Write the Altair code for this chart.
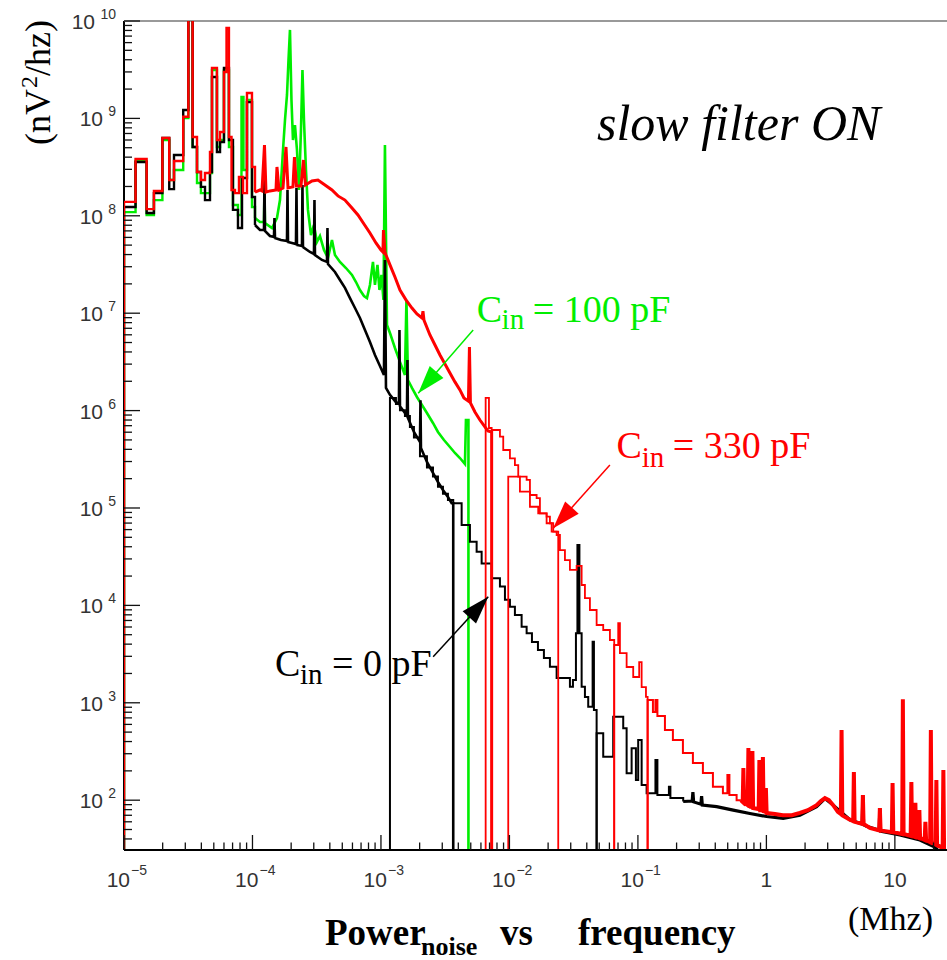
import altair as alt
import pandas as pd

# ---------------- data: frequency [MHz], noise power [nV^2/Hz] ----------------
# Each trace is a superposition of histogram segments (value 1 = empty bin -> bottom, 2e10 = off scale)

# red, C_in = 330 pF
R1A_F = [1.00e-5, 1.00e-5, 1.23e-5, 1.50e-5, 1.71e-5, 1.99e-5, 2.25e-5, 2.45e-5, 2.89e-5, 3.17e-5,
         3.42e-5, 3.70e-5, 3.97e-5, 4.27e-5, 4.67e-5, 4.84e-5, 5.29e-5, 5.59e-5, 6.00e-5, 6.28e-5,
         6.56e-5, 6.87e-5, 7.31e-5, 7.85e-5, 8.44e-5, 9.06e-5, 9.91e-5, 1.046e-4]
R1A_P = [1, 1.39e8, 3.83e8, 1.17e8, 1.80e8, 6.29e8, 2.33e8, 3.65e8, 1.04e9, 2e10,
         6.44e8, 2.82e8, 2.33e8, 2.75e8, 4.52e8, 3.29e9, 6.00e8, 7.25e8, 2.99e9, 8.47e9,
         6.44e8, 1.84e8, 1.71e8, 2.50e8, 1.71e8, 1.82e9, 3.17e8, 1.75e8]
R1B_F = [1.046e-4, 1.144e-4, 1.186e-4, 1.240e-4, 1.274e-4, 1.368e-4, 1.524e-4, 1.551e-4, 1.608e-4, 1.728e-4,
         1.823e-4, 1.890e-4, 2.066e-4, 2.122e-4, 2.200e-4, 2.385e-4, 2.494e-4, 2.585e-4, 2.904e-4, 3.233e-4,
         3.666e-4, 4.156e-4, 4.627e-4, 5.246e-4, 5.949e-4, 6.622e-4, 7.374e-4, 8.211e-4, 9.144e-4, 1.000e-3,
         1.036e-3, 1.046e-3, 1.074e-3, 1.094e-3, 1.175e-3, 1.285e-3, 1.406e-3, 1.565e-3, 1.743e-3, 1.906e-3,
         2.085e-3, 2.123e-3, 2.161e-3, 2.406e-3, 2.633e-3, 2.879e-3, 3.149e-3, 3.443e-3, 3.765e-3, 4.118e-3,
         4.424e-3, 4.796e-3, 4.883e-3, 4.970e-3, 5.389e-3, 5.893e-3, 6.447e-3, 6.804e-3, 7.270e-3, 7.270e-3]
R1B_P = [1.75e8, 1.84e8, 1.80e8, 5.33e8, 1.75e8, 1.80e8, 1.84e8, 3.17e8, 1.84e8, 1.93e8,
         5.09e8, 1.93e8, 1.98e8, 4.01e8, 2.02e8, 2.02e8, 3.74e8, 2.07e8, 2.28e8, 2.33e8,
         2.07e8, 1.84e8, 1.60e8, 1.45e8, 1.20e8, 1.02e8, 8.24e7, 6.66e7, 5.26e7, 4.46e7,
         4.25e7, 7.15e7, 4.25e7, 3.96e7, 3.13e7, 2.35e7, 1.73e7, 1.37e7, 1.13e7, 9.81e6,
         8.93e6, 1.05e7, 8.51e6, 5.98e6, 4.71e6, 3.72e6, 3.01e6, 2.43e6, 1.97e6, 1.63e6,
         1.35e6, 1.25e6, 4.50e6, 1.20e6, 9.67e5, 8.0e5, 6.79e5, 6.17e5, 6.03e5, 1]
R2_F = [6.529e-3, 6.529e-3, 6.927e-3, 7.270e-3, 8.435e-3, 8.949e-3, 1.009e-2, 1.103e-2, 1.171e-2, 1.361e-2,
        1.444e-2, 1.628e-2, 1.727e-2, 1.947e-2, 2.066e-2, 2.192e-2, 2.398e-2]
R2_P = [1, 1.35e6, 6.63e5, 6.32e5, 5.40e5, 3.94e5, 3.23e5, 2.76e5, 2.10e5, 1.94e5,
        1.36e5, 1.26e5, 8.82e4, 8.15e4, 6.97e4, 5.71e4, 1]
R3_F = [9.788e-3, 9.788e-3, 1.207e-2, 1.444e-2, 1.675e-2, 1.947e-2, 2.130e-2, 2.330e-2, 2.472e-2, 2.704e-2,
        2.957e-2, 3.334e-2, 3.647e-2, 3.869e-2, 4.231e-2, 4.771e-2, 5.370e-2, 6.054e-2, 6.539e-2]
R3_P = [1, 2.10e5, 1.47e5, 1.03e5, 8.82e4, 6.97e4, 5.71e4, 5.28e4, 3.70e4, 2.92e4,
        2.31e4, 2.54e4, 1.62e4, 1.19e4, 8.97e3, 6.29e3, 5.59e3, 4.41e3, 1]
R4_F = [6.539e-2, 6.539e-2, 7.026e-2, 7.244e-2, 8.168e-2, 9.192e-2, 0.1023, 0.1069, 0.1155, 0.1190]
R4_P = [1, 3.92e3, 6.59e3, 3.24e3, 2.33e3, 1.84e3, 2.62e3, 1.45e3, 1.15e3, 1]
R5A_F = [0.1190, 0.1190, 0.1309, 0.1369, 0.1418, 0.1623, 0.1872, 0.2240, 0.2679, 0.3205,
         0.3835, 0.4587, 0.4972, 0.5154, 0.5864, 0.6334]
R5A_P = [1, 1.07e3, 8.05e2, 1.07e3, 7.32e2, 5.26e2, 4.15e2, 3.05e2, 2.41e2, 1.90e2,
         1.37e2, 1.18e2, 1.81e2, 1.13e2, 1.00e2, 1.00e2]
R5B_F = [0.6334, 0.6541, 0.6622, 0.6707, 0.7152, 0.7244, 0.7334, 0.7685, 0.7782, 0.7880,
         0.8711, 0.8821, 0.8933, 0.9275, 0.9393, 0.9511, 0.9788, 0.9911, 1.004, 1.165,
         1.344, 1.579, 1.823, 2.104, 2.459, 2.656, 2.853, 3.065, 3.311, 3.601,
         3.800, 3.847, 3.897, 4.466, 4.738, 4.796, 4.859, 5.567, 5.636, 5.708,
         6.388, 7.546, 7.642, 7.740, 9.478, 9.596, 9.718, 11.40, 11.54, 11.69,
         13.27, 13.44, 13.61, 14.26, 14.44, 14.62, 15.32, 15.51, 15.71, 17.06,
         17.28, 17.50, 18.82, 19.06, 19.30, 20.77, 21.04, 21.30, 23.55, 23.85,
         24.15, 24.94]
R5B_P = [100, 96, 214, 94, 89, 344, 87, 85, 320, 83,
         81, 259, 79, 79, 278, 77, 76, 133, 74, 72,
         70, 70, 74, 79, 89, 98, 105, 100, 89, 76,
         72, 526, 70, 63, 61, 195, 60, 57, 113, 57,
         52, 49, 83, 49, 47, 150, 47, 45, 1090, 45,
         43, 154, 43, 42, 94, 42, 41, 79, 41, 39,
         60, 39, 37, 526, 37, 35, 161, 35, 32, 204,
         31.5, 27]

# black, C_in = 0 pF
B1A_F = [1.00e-5, 1.00e-5, 1.23e-5, 1.50e-5, 1.71e-5, 1.99e-5, 2.25e-5, 2.45e-5, 2.89e-5, 3.17e-5,
         3.42e-5, 3.70e-5, 3.97e-5, 4.27e-5, 4.67e-5, 4.84e-5, 5.29e-5, 5.59e-5, 6.00e-5, 6.56e-5,
         7.05e-5, 7.71e-5, 8.29e-5, 9.06e-5, 9.91e-5, 1.046e-4]
B1A_P = [1, 1.23e8, 3.57e8, 1.07e8, 1.71e8, 6.29e8, 1.88e8, 4.21e8, 1.22e9, 2e10,
         5.09e8, 2.82e8, 1.98e8, 1.45e8, 2.82e8, 2.66e9, 4.52e8, 5.72e8, 3.29e9, 6.00e8,
         1.15e8, 7.50e7, 2.44e8, 1.47e9, 1.56e8, 8.05e7]
B1B_F = [1.046e-4, 1.144e-4, 1.229e-4, 1.240e-4, 1.251e-4, 1.368e-4, 1.470e-4, 1.483e-4, 1.497e-4, 1.667e-4,
         1.856e-4, 1.873e-4, 1.890e-4, 2.030e-4, 2.180e-4, 2.200e-4, 2.220e-4, 2.428e-4, 2.449e-4, 2.472e-4,
         2.802e-4, 3.010e-4, 3.037e-4, 3.065e-4, 3.474e-4, 3.800e-4, 3.834e-4, 3.869e-4, 4.385e-4, 4.796e-4,
         5.246e-4, 5.740e-4, 6.279e-4, 6.865e-4, 7.508e-4, 8.211e-4, 8.981e-4, 9.822e-4, 1.055e-3, 1.074e-3,
         1.094e-3, 1.175e-3, 1.308e-3, 1.380e-3, 1.393e-3, 1.406e-3, 1.537e-3, 1.593e-3, 1.607e-3, 1.622e-3,
         1.806e-3, 2.012e-3, 2.030e-3, 2.048e-3, 2.280e-3, 2.540e-3, 2.778e-3, 3.038e-3, 3.322e-3, 3.549e-3,
         3.652e-3, 3.652e-3]
B1B_P = [8.05e7, 7.15e7, 7.15e7, 2.44e8, 6.98e7, 6.20e7, 6.06e7, 9.48e7, 5.92e7, 5.65e7,
         5.51e7, 1.84e8, 5.39e7, 5.26e7, 5.13e7, 1.93e8, 5.02e7, 4.90e7, 2.07e8, 4.78e7,
         4.25e7, 4.05e7, 1.45e8, 3.96e7, 3.52e7, 3.36e7, 7.50e7, 3.20e7, 2.65e7, 2.19e7,
         1.82e7, 1.43e7, 1.13e7, 8.93e6, 6.73e6, 5.06e6, 3.72e6, 2.87e6, 2.32e6, 3.52e7,
         1.71e6, 1.45e6, 1.22e6, 1.17e6, 6.73e6, 1.11e6, 9.45e5, 8.80e5, 3.31e6, 8.39e5,
         6.03e5, 4.76e5, 1.28e6, 4.13e5, 2.97e5, 2.29e5, 1.85e5, 1.53e5, 1.30e5, 1.12e5,
         1.12e5, 1]
B2_F = [1.175e-3, 1.175e-3, 1.308e-3, 1.406e-3, 1.537e-3, 1.68e-3, 1.806e-3, 2.012e-3, 2.280e-3, 2.540e-3,
        2.778e-3, 3.038e-3, 3.322e-3, 3.652e-3, 4.246e-3, 4.927e-3, 5.555e-3, 6.076e-3, 7.270e-3, 8.435e-3,
        9.226e-3, 1.009e-2, 1.103e-2, 1.244e-2, 1.361e-2, 1.497e-2, 1.667e-2, 1.855e-2, 2.066e-2, 2.330e-2,
        2.957e-2, 3.121e-2, 3.293e-2, 3.382e-2, 3.505e-2, 3.647e-2, 3.869e-2, 4.104e-2, 4.441e-2, 4.546e-2,
        4.771e-2]
B2_P = [1, 1.35e6, 1.17e6, 1.01e6, 8.8e5, 6.79e5, 5.3e5, 3.4e5, 2.6e5, 2.1e5,
        1.65e5, 1.4e5, 1.21e5, 1.12e5, 6.70e4, 4.51e4, 3.56e4, 2.70e4, 1.90e4, 1.56e4,
        1.14e4, 9.7e3, 7.96e3, 6.04e3, 5.17e3, 4.21e3, 3.48e3, 2.88e3, 2.35e3, 1.80e3,
        1.46e3, 1.71e3, 5.17e3, 4.17e4, 5.17e3, 1.46e3, 1.15e3, 9.12e2, 4.24e3, 8.44e2,
        1]
B3A_F = [4.771e-2, 4.771e-2, 5.370e-2, 6.423e-2, 7.686e-2, 8.168e-2, 8.933e-2, 9.647e-2, 0.1005, 0.1069,
         0.1169, 0.1369, 0.1418, 0.1743, 0.1790, 0.2252]
B3A_P = [1, 4.86e2, 2.80e2, 7.20e2, 5.47e2, 1.89e2, 3.41e2, 1.61e2, 4.15e2, 1.43e2,
         1.18e2, 2.59e2, 1.13e2, 1.37e2, 1.05e2, 97]
B3B_F = [0.2252, 0.2646, 0.2679, 0.2714, 0.3093, 0.3131, 0.3171, 0.4098, 0.5515, 0.7438,
         1.004, 1.351, 1.823, 2.459, 2.853, 3.311, 4.466, 5.567, 5.636, 5.708,
         6.023, 7.546, 7.642, 7.740, 10.94, 15.65, 20.48, 22.40]
B3B_P = [97, 98, 121, 96, 91, 110, 89, 86, 79, 73,
         68, 65, 70, 86, 104, 89, 63, 57, 113, 56,
         54, 49, 83, 48, 44, 39, 33, 29]

# green, C_in = 100 pF
G1A_F = [1.00e-5, 1.00e-5, 1.23e-5, 1.50e-5, 1.71e-5, 1.99e-5, 2.25e-5, 2.45e-5, 2.89e-5, 3.17e-5,
         3.42e-5, 3.70e-5, 3.97e-5, 4.27e-5, 4.67e-5, 4.84e-5, 5.29e-5, 5.59e-5, 6.00e-5, 6.56e-5,
         7.05e-5, 7.71e-5, 8.21e-5, 8.51e-5, 9.06e-5, 9.91e-5, 1.046e-4]
G1A_P = [1, 1.09e8, 3.65e8, 1.02e8, 1.45e8, 6.00e8, 2.33e8, 2.95e8, 1.01e9, 2e10,
         5.09e8, 2.17e8, 1.71e8, 1.71e8, 2.75e8, 3.14e9, 5.09e8, 6.00e8, 3.14e9, 5.09e8,
         1.29e8, 1.02e8, 1.66e9, 2.95e8, 1.55e9, 1.23e8, 9.48e7]
G1B_F = [1.046e-4, 1.144e-4, 1.229e-4, 1.240e-4, 1.251e-4, 1.418e-4, 1.551e-4, 1.637e-4, 1.728e-4, 1.791e-4,
         1.856e-4, 1.907e-4, 1.958e-4, 2.011e-4, 2.066e-4, 2.141e-4, 2.220e-4, 2.301e-4, 2.385e-4, 2.449e-4,
         2.516e-4, 2.608e-4, 2.703e-4, 2.853e-4, 3.010e-4, 3.176e-4, 3.352e-4, 3.601e-4, 3.869e-4, 4.156e-4,
         4.385e-4, 4.796e-4, 5.341e-4, 5.949e-4, 6.392e-4, 6.865e-4, 7.374e-4, 7.782e-4, 8.211e-4, 8.664e-4,
         8.981e-4, 9.393e-4, 9.735e-4, 1.009e-3, 1.046e-3, 1.074e-3, 1.114e-3, 1.175e-3, 1.285e-3, 1.406e-3,
         1.537e-3, 1.579e-3, 1.622e-3, 1.743e-3, 1.906e-3, 2.085e-3, 2.280e-3, 2.540e-3, 2.778e-3, 3.093e-3,
         3.443e-3, 3.765e-3, 4.118e-3, 4.505e-3, 4.587e-3, 4.796e-3, 4.796e-3]
G1B_P = [9.48e7, 8.63e7, 8.63e7, 1.84e8, 8.44e7, 7.50e7, 9.48e7, 1.45e8, 4.74e8, 9.63e8,
         1.74e9, 3.98e9, 8.1e9, 1.55e9, 6.00e8, 8.55e8, 4.74e8, 1.84e8, 7.60e8, 3.14e9,
         9.63e8, 2.95e8, 1.15e8, 6.35e7, 8.05e7, 5.39e7, 6.20e7, 4.46e7, 3.69e7, 5.65e7,
         3.96e7, 3.36e7, 2.91e7, 2.47e7, 2.09e7, 1.73e7, 1.50e7, 1.43e7, 1.95e7, 3.36e7,
         1.95e7, 3.13e7, 1.73e7, 2.47e7, 1.37e7, 5.33e8, 7.57e6, 6.27e6, 4.39e6, 3.16e6,
         2.32e6, 1.37e7, 2.06e6, 1.71e6, 1.38e6, 1.14e6, 9.45e5, 7.46e5, 6.03e5, 4.99e5,
         4.23e5, 3.67e5, 3.26e5, 2.83e5, 8.0e5, 8.0e5, 1]

# axis ticks and labels
Y_MAJOR = [1e2, 1e3, 1e4, 1e5, 1e6, 1e7, 1e8, 1e9, 1e10]
Y_EXP = ["2", "3", "4", "5", "6", "7", "8", "9", "10"]
X_MAJOR = [1e-5, 1e-4, 1e-3, 1e-2, 1e-1, 1, 10]
X_BASE = ["10", "10", "10", "10", "10", "1", "10"]
X_EXP = ["\u22125", "\u22124", "\u22123", "\u22122", "\u22121", "", ""]

# annotations: arrows (start -> tip) and labels
ARROW_NAME = ["green", "red", "black"]
ARROW_F0 = [5.22e-3, 6.05e-2, 2.55e-3]
ARROW_P0 = [6.73e6, 2.76e5, 2.97e3]
ARROW_F1 = [1.95e-3, 2.19e-2, 6.84e-3]
ARROW_P1 = [1.51e6, 6.18e4, 1.23e4]
LABEL_C_F = [5.56e-3, 6.82e-2, 1.50e-4]
LABEL_C_P = [8.18e6, 3.24e5, 1.88e3]
LABEL_IN_F = [8.69e-3, 0.107, 2.34e-4]
LABEL_IN_P = [6.89e6, 2.65e5, 1.56e3]
LABEL_EQ_F = [1.52e-2, 0.187, 4.16e-4]
LABEL_EQ_TXT = ["= 100 pF", "= 330 pF", "= 0 pF"]

FMIN, FMAX = 1e-5, 25.0
PMIN, PMAX = 30.8, 1e10
W, H = 822, 829

COL = {"black": "#000000", "green": "#00ee00", "red": "#ff0000"}
SANS = "Liberation Sans"
SERIF = "Liberation Serif"

xs = alt.Scale(type="log", domain=[FMIN, FMAX], nice=False)
ys = alt.Scale(type="log", domain=[PMIN, PMAX], nice=False)
X = alt.X("f:Q", scale=xs, axis=None)
Y = alt.Y("P:Q", scale=ys, axis=None)
X2 = alt.X2("f2:Q")
Y2 = alt.Y2("P2:Q")

one = pd.DataFrame({"k": [0]})
layers = []

# frame (left, top)
layers.append(alt.Chart(one).mark_rule(color="#000", strokeWidth=2).encode(
    x=alt.value(0), y=alt.value(0), y2=alt.value(H)))
layers.append(alt.Chart(one).mark_rule(color="#777", strokeWidth=1.5).encode(
    x=alt.value(0), x2=alt.value(W + 1), y=alt.value(0)))

segments = [
    ("green", G1A_F, G1A_P, "step-after", 2.4),
    ("green", G1B_F, G1B_P, "linear", 2.6),
    ("black", B1A_F, B1A_P, "step-after", 2.4),
    ("black", B1B_F, B1B_P, "linear", 2.6),
    ("black", B2_F, B2_P, "step-after", 2.0),
    ("black", B3A_F, B3A_P, "step-after", 2.0),
    ("black", B3B_F, B3B_P, "linear", 3.2),
    ("red", R1A_F, R1A_P, "step-after", 2.4),
    ("red", R1B_F, R1B_P, "linear", 3.0),
    ("red", R2_F, R2_P, "step-after", 1.8),
    ("red", R3_F, R3_P, "step-after", 1.8),
    ("red", R4_F, R4_P, "step-after", 1.8),
    ("red", R5A_F, R5A_P, "step-after", 2.0),
    ("red", R5B_F, R5B_P, "linear", 4.0),
]
for trace, F, P, interp, w in segments:
    assert len(F) == len(P), (trace, len(F), len(P))
    df = pd.DataFrame({"f": F, "P": P, "i": list(range(len(F)))})
    layers.append(alt.Chart(df).mark_line(interpolate=interp, clip=True, color=COL[trace],
                                          strokeWidth=w).encode(x=X, y=Y, order="i:Q"))

# bottom axis line on top of traces
layers.append(alt.Chart(one).mark_rule(color="#000", strokeWidth=2).encode(
    x=alt.value(0), x2=alt.value(W + 1), y=alt.value(H)))

# ticks (drawn inside the frame like the original)
y_minor = [k * 10.0 ** d for d in range(1, 10) for k in range(2, 10) if PMIN <= k * 10.0 ** d < PMAX]
x_minor = [k * 10.0 ** d for d in range(-5, 2) for k in range(2, 10) if k * 10.0 ** d < FMAX]
layers.append(alt.Chart(pd.DataFrame({"P": Y_MAJOR})).mark_rule(color="#111", strokeWidth=1.3).encode(
    y=Y, x=alt.value(0), x2=alt.value(16)))
layers.append(alt.Chart(pd.DataFrame({"P": y_minor})).mark_rule(color="#111", strokeWidth=1.3).encode(
    y=Y, x=alt.value(0), x2=alt.value(8)))
layers.append(alt.Chart(pd.DataFrame({"f": X_MAJOR})).mark_rule(color="#111", strokeWidth=1.3).encode(
    x=X, y=alt.value(H), y2=alt.value(H - 15)))
layers.append(alt.Chart(pd.DataFrame({"f": x_minor})).mark_rule(color="#111", strokeWidth=1.3).encode(
    x=X, y=alt.value(H), y2=alt.value(H - 7.5)))

# y tick labels 10^n
ylab = pd.DataFrame({"P": Y_MAJOR, "e": Y_EXP})
layers.append(alt.Chart(ylab).transform_filter("length(datum.e) == 1").mark_text(
    align="right", baseline="alphabetic", dy=8, font=SANS, fontSize=21, color="#333", text="10").encode(
    y=Y, x=alt.value(-21)))
layers.append(alt.Chart(ylab).transform_filter("length(datum.e) == 2").mark_text(
    align="right", baseline="alphabetic", dy=8, font=SANS, fontSize=21, color="#333", text="10").encode(
    y=Y, x=alt.value(-29)))
layers.append(alt.Chart(ylab).mark_text(
    align="right", baseline="alphabetic", dy=-2, font=SANS, fontSize=14, color="#333").encode(
    y=Y, x=alt.value(-8), text="e:N"))

# x tick labels
xlab = pd.DataFrame({"f": X_MAJOR, "b": X_BASE, "e": X_EXP})
layers.append(alt.Chart(xlab).transform_filter("datum.e != ''").mark_text(
    align="right", baseline="alphabetic", dx=6, font=SANS, fontSize=21, color="#333").encode(
    x=X, y=alt.value(866), text="b:N"))
layers.append(alt.Chart(xlab).transform_filter("datum.e != ''").mark_text(
    align="left", baseline="alphabetic", dx=7, font=SANS, fontSize=14, color="#333").encode(
    x=X, y=alt.value(854), text="e:N"))
layers.append(alt.Chart(xlab).transform_filter("datum.e == ''").mark_text(
    align="center", baseline="alphabetic", font=SANS, fontSize=21, color="#333").encode(
    x=X, y=alt.value(866), text="b:N"))

# arrows and labels
ANGLE = {"green": 221, "red": 222, "black": 42.5}
HEAD = "M0,0L0.65,2L-0.65,2Z"
for j, name in enumerate(ARROW_NAME):
    c = COL[name]
    seg = pd.DataFrame({"f": [ARROW_F0[j]], "P": [ARROW_P0[j]], "f2": [ARROW_F1[j]], "P2": [ARROW_P1[j]]})
    layers.append(alt.Chart(seg).mark_rule(color=c, strokeWidth=1.5).encode(x=X, y=Y, x2=X2, y2=Y2))
    tip = pd.DataFrame({"f": [ARROW_F1[j]], "P": [ARROW_P1[j]]})
    layers.append(alt.Chart(tip).mark_point(shape=HEAD, filled=True, size=784, angle=ANGLE[name],
                                            color=c, opacity=1).encode(x=X, y=Y))
    lc = pd.DataFrame({"f": [LABEL_C_F[j]], "P": [LABEL_C_P[j]], "t": ["C"]})
    li = pd.DataFrame({"f": [LABEL_IN_F[j]], "P": [LABEL_IN_P[j]], "t": ["in"]})
    le = pd.DataFrame({"f": [LABEL_EQ_F[j]], "P": [LABEL_C_P[j]], "t": [LABEL_EQ_TXT[j]]})
    for d, fs in ((lc, 38), (li, 29), (le, 38)):
        layers.append(alt.Chart(d).mark_text(align="left", baseline="alphabetic", font=SERIF,
                                             fontSize=fs, color=c).encode(x=X, y=Y, text="t:N"))

# "slow filter ON"
sf = pd.DataFrame({"f": [4.8e-2], "P": [6.0e8], "t": ["slow filter ON"]})
layers.append(alt.Chart(sf).mark_text(align="left", baseline="alphabetic", font=SERIF, fontSize=50,
                                      fontStyle="italic", color="#000").encode(x=X, y=Y, text="t:N"))

# y-axis title  (nV^2/hz), read bottom to top
for txt, xx, yy, fs in (("/hz)", -74, -1, 36), ("2", -87, 55, 24), ("(nV", -74, 68, 36)):
    layers.append(alt.Chart(one).mark_text(angle=270, align="right", baseline="alphabetic", font=SERIF,
                                           fontSize=fs, color="#000", text=txt).encode(
        x=alt.value(xx), y=alt.value(yy)))

# x-axis unit and title
layers.append(alt.Chart(one).mark_text(align="left", baseline="alphabetic", font=SERIF, fontSize=34,
                                       color="#000", text="(Mhz)").encode(x=alt.value(724), y=alt.value(909)))
for txt, xx, yy, fs in (("Power", 201, 924, 37), ("noise", 297, 934, 26), ("vs", 376, 924, 37),
                        ("frequency", 454, 924, 37)):
    layers.append(alt.Chart(one).mark_text(align="left", baseline="alphabetic", font=SERIF, fontSize=fs,
                                           fontWeight="bold", color="#000", text=txt).encode(
        x=alt.value(xx), y=alt.value(yy)))

chart = alt.layer(*layers).properties(
    width=W, height=H,
    padding={"left": 124, "top": 21, "right": 1, "bottom": 110},
    autosize=alt.AutoSizeParams(type="none"),
    background="white",
).configure_view(stroke=None)

chart.save("out.html", embed_options={"renderer": "svg", "actions": False})
